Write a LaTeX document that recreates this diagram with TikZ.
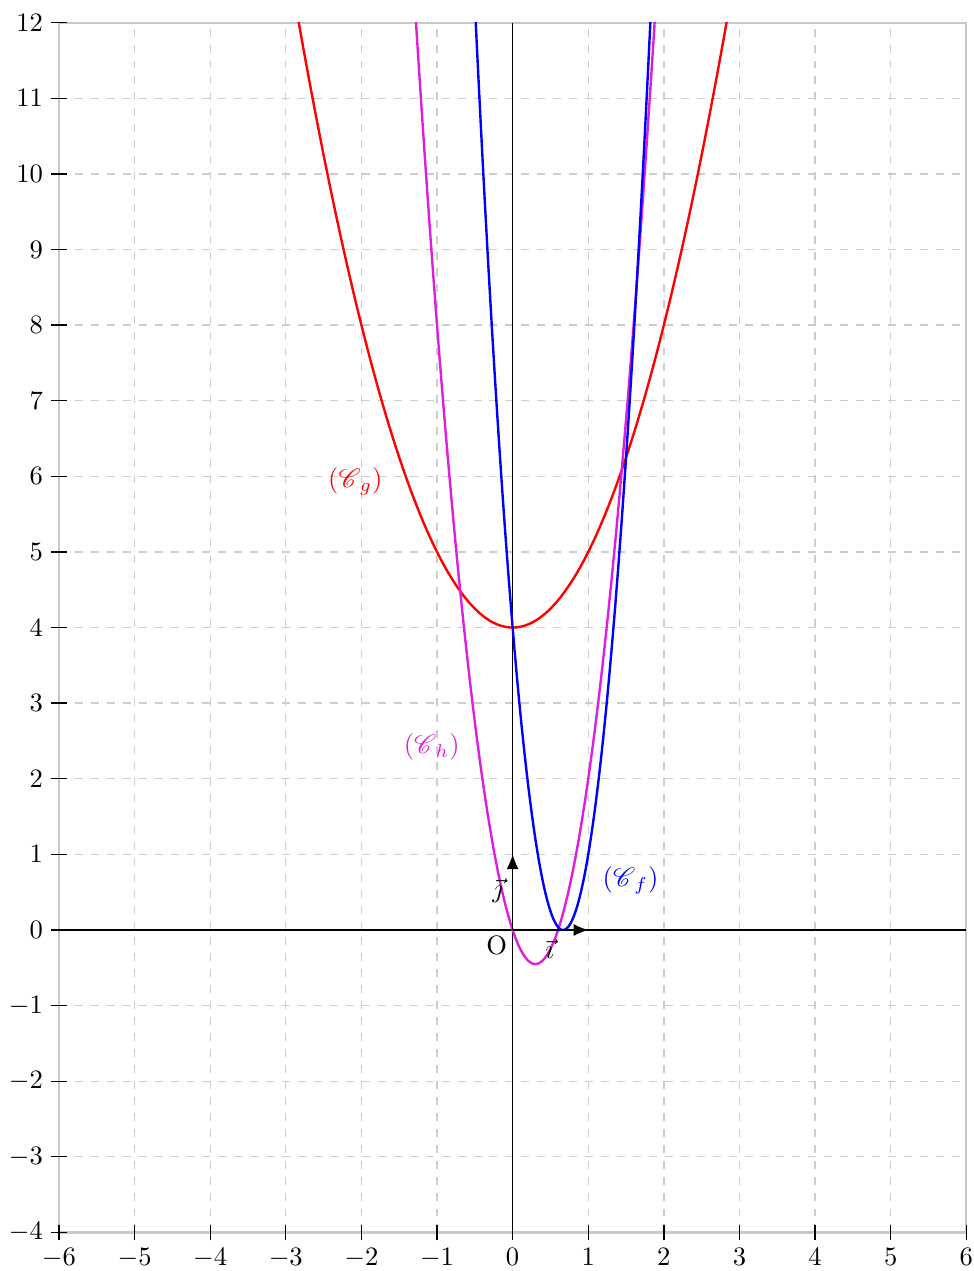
\documentclass[tikz,border=0pt]{standalone}
\usepackage{mathrsfs}
\usetikzlibrary{arrows.meta}
\definecolor{framegray}{RGB}{200,200,200}
\definecolor{gridgray}{RGB}{205,205,205}
\definecolor{hcol}{RGB}{222,30,222}
\tikzset{
  gridline/.style={gridgray, dashed, line width=0.5pt},
  framebox/.style={framegray, line width=0.8pt},
  tickmark/.style={black, line width=0.5pt},
  curve/.style={line width=0.9pt, smooth, samples=200},
  axisline/.style={black, line width=0.5pt},
  vecarrow/.style={black, line width=0.5pt, -{Latex[length=5.5pt,width=4.5pt]}},
  ticklabel/.style={inner sep=3pt, font=\normalsize}
}
\begin{document}
\begin{tikzpicture}
\useasboundingbox (-6.78,-4.51) rectangle (6.09,12.30);
% grid
\foreach \x in {-5,...,5} \draw[gridline] (\x,-4) -- (\x,12);
\foreach \y in {-3,...,11} \draw[gridline] (-6,\y) -- (6,\y);
% frame
\draw[framebox] (-6,-4) rectangle (6,12);
% ticks and labels
\foreach \y in {-4,...,12} {
  \draw[tickmark] (-6.1,\y) -- (-5.9,\y);
  \node[ticklabel, anchor=east] (ly\y) at (-6.1,\y) {$\y$};
}
\foreach \x in {-6,...,6} {
  \draw[tickmark] (\x,-4.1) -- (\x,-3.9);
  \node[ticklabel, anchor=north] (lx\x) at (\x,-4.1) {$\x$};
}
% axes
\coordinate (xl) at (-6,0);
\coordinate (xr) at (6,0);
\coordinate (yb) at (0,-4);
\coordinate (yt) at (0,12);
\draw[axisline] (xl) -- (xr);
\draw[axisline] (yb) -- (yt);
% curves
\begin{scope}
\clip (-6,-4) rectangle (6,12);
\draw[curve, red, domain=-2.9:2.9] plot (\x,{\x*\x+4});
\draw[curve, hcol, domain=-1.35:1.95] plot (\x,{5*\x*\x-3*\x});
\draw[curve, blue, domain=-0.52:1.86] plot (\x,{(3*\x-2)*(3*\x-2)});
\end{scope}
% vectors
\coordinate (O) at (0,0);
\coordinate (I) at (1,0);
\coordinate (J) at (0,1);
\draw[vecarrow] (O) -- (I);
\draw[vecarrow] (O) -- (J);
\node (lO) at (-0.21,-0.21) {O};
\node (li) at (0.49,-0.25) {$\vec{\imath}$};
\node (lj) at (-0.2,0.52) {$\vec{\jmath}$};
% curve labels
\node[red] (cg) at (-2.08,5.93) {$(\mathscr{C}_{\mkern3mu g})$};
\node[hcol] (ch) at (-1.07,2.42) {$(\mathscr{C}_{\mkern3mu h})$};
\node[blue] (cf) at (1.56,0.66) {$(\mathscr{C}_{\mkern3mu f})$};
\end{tikzpicture}
\end{document}
